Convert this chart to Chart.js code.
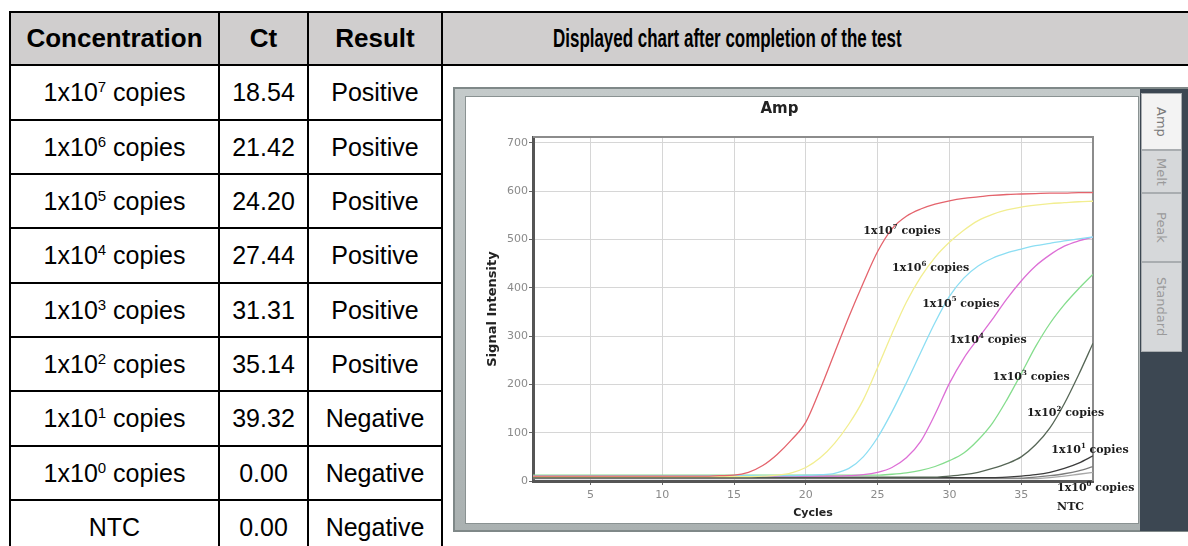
<!DOCTYPE html>
<html><head><meta charset="utf-8">
<script src="https://cdn.jsdelivr.net/npm/chart.js@4.4.1/dist/chart.umd.min.js"></script>
<style>
html,body{margin:0;padding:0;background:#fff;}
body{width:1188px;height:546px;overflow:hidden;position:relative;font-family:"Liberation Sans",Arial,sans-serif;color:#000;}
.cell{position:absolute;box-sizing:border-box;border:2px solid #000;display:flex;align-items:center;justify-content:center;white-space:nowrap;}
.hd{background:#d0cece;font-weight:bold;font-size:26px;}
.bd{font-size:25px;background:#fff;}
.sup{font-size:15px;line-height:0;position:relative;top:-9px;}
#hdtext{display:inline-block;transform:scaleX(0.652);transform-origin:left center;font-size:26px;font-weight:bold;}
#frame{position:absolute;left:453px;top:87px;width:740px;height:445px;box-sizing:border-box;border:2px solid #7f8888;background:linear-gradient(#c4caca,#aab1b1);}
#plotbg{position:absolute;left:465px;top:96px;width:674px;height:428px;box-sizing:border-box;border:1px solid #8a9292;background:#fff;}
#cv{position:absolute;left:466px;top:97px;}
#tabs{position:absolute;left:1140px;top:89px;width:50px;height:442px;background:#3c4752;}
.tab{position:absolute;left:1px;width:41px;box-sizing:border-box;border:1px solid #a9adb0;background:#d6d8da;color:#9a9a9a;font-family:"DejaVu Sans",sans-serif;font-size:13px;writing-mode:vertical-rl;display:flex;align-items:center;justify-content:center;}
</style></head>
<body>
<div id="tbl"></div>
<div id="frame"></div>
<div id="plotbg"></div>
<canvas id="cv" width="672" height="426"></canvas>
<div id="tabs"></div>
<script>
// ---------- table data ----------
const headers = ["Concentration", "Ct", "Result"];
const chartHeader = "Displayed chart after completion of the test";
const concExponents = ["7", "6", "5", "4", "3", "2", "1", "0", null];
const ctValues = ["18.54", "21.42", "24.20", "27.44", "31.31", "35.14", "39.32", "0.00", "0.00"];
const results = ["Positive", "Positive", "Positive", "Positive", "Positive", "Positive", "Negative", "Negative", "Negative"];
const tabNames = ["Amp", "Melt", "Peak", "Standard"];

// ---------- chart data ----------
const cycles = [1,2,3,4,5,6,7,8,9,10,11,12,13,14,15,16,17,18,19,20,21,22,23,24,25,26,27,28,29,30,31,32,33,34,35,36,37,38,39,40];
const xTicks = [5, 10, 15, 20, 25, 30, 35];
const yTicks = [0, 100, 200, 300, 400, 500, 600, 700];
const seriesNames = ["1x10^7", "1x10^6", "1x10^5", "1x10^4", "1x10^3", "1x10^2", "1x10^1", "1x10^0", "NTC"];
const copies7 = [10,10,10,10,10,10,10,10,10,10, 10,10,10,11,12,18,32,55,85,122, 190,265,340,410,475,522,548,563,573,580, 585,588,591,593,594,595,596,596,597,597];
const copies6 = [9,9,9,9,9,9,9,9,9,9, 9,9,9,9,9,9,10,12,17,28, 48,78,118,168,235,305,370,422,463,494, 519,539,552,561,567,571,574,576,578,579];
const copies5 = [11,11,11,11,11,11,11,11,11,11, 11,11,11,11,11,11,11,11,11,12, 13,16,26,50,90,143,203,266,328,382, 420,445,461,472,480,487,492,497,501,505];
const copies4 = [10,10,10,10,10,10,10,10,10,10, 10,10,10,10,10,10,10,10,10,10, 10,10,11,13,18,28,48,82,138,202, 254,295,335,377,414,445,468,486,497,505];
const copies3 = [12,12,12,12,12,12,12,12,12,12, 12,12,12,12,12,12,12,12,12,12, 12,12,12,12,12,14,17,22,30,42, 58,85,120,168,222,278,326,365,398,428];
const copies2 = [8,8,8,8,8,8,8,8,8,8, 8,8,8,8,8,8,8,8,8,8, 8,8,8,8,8,8,8,8,8,10, 13,18,26,36,50,75,110,160,220,285];
const copies1 = [7,7,7,7,7,7,7,7,7,7, 7,7,7,7,7,7,7,7,7,7, 7,7,7,7,7,7,7,7,7,7, 7,7,7,8,10,13,18,26,37,52];
const copies0 = [6,6,6,6,6,6,6,6,6,6, 6,6,6,6,6,6,6,6,6,6, 6,6,6,6,6,6,6,6,6,6, 6,6,6,6,6,8,11,15,21,30];
const ntc = [5,5,5,5,5,5,5,5,5,5, 5,5,5,5,5,5,5,5,5,5, 5,5,5,5,5,5,5,5,5,5, 5,5,5,5,5,5,7,10,14,18];
const seriesValues = [copies7, copies6, copies5, copies4, copies3, copies2, copies1, copies0, ntc];

// curve annotations (text, and where they sit in data coordinates)
const labelExps = ["7", "6", "5", "4", "3", "2", "1", "0", null];
const labelCycle = [24.0, 26.0, 28.1, 30.0, 33.0, 35.4, 37.1, 37.5, 37.5];
const labelSignal = [518, 441, 367, 292, 215, 141, 64, -14, -54];

// ---------- styles ----------
const seriesColors = ["#e4636c", "#f2ee90", "#8cdef3", "#dd6fd6", "#85dd8d", "#566656", "#3c3c3c", "#7c7c7c", "#a8a8a8"];

// ---------- build table ----------
const colX = [9, 218, 307, 441, 1200];
const rowY = [11, 64, 119, 173, 227, 282, 336, 390, 445, 499, 554];
const tbl = document.getElementById('tbl');
function mkCell(cls, l, t, w, h, html) {
  const d = document.createElement('div');
  d.className = 'cell ' + cls;
  d.style.left = l + 'px'; d.style.top = t + 'px';
  d.style.width = w + 'px'; d.style.height = h + 'px';
  if (html !== undefined) d.innerHTML = '<span>' + html + '</span>';
  tbl.appendChild(d);
  return d;
}
headers.forEach((h, i) => mkCell('hd', colX[i], rowY[0], colX[i+1]-colX[i]+2, rowY[1]-rowY[0]+2, h));
const hc = mkCell('hd', colX[3], rowY[0], colX[4]-colX[3]+2, rowY[1]-rowY[0]+2);
hc.style.justifyContent = 'flex-start';
hc.style.paddingLeft = '110px';
const hs = document.createElement('span'); hs.id = 'hdtext'; hs.textContent = chartHeader; hc.appendChild(hs);
for (let r = 0; r < 9; r++) {
  const t = rowY[r+1], h = rowY[r+2]-rowY[r+1]+2;
  const conc = concExponents[r] === null ? 'NTC' : '1x10<span class="sup">' + concExponents[r] + '</span> copies';
  mkCell('bd', colX[0], t, colX[1]-colX[0]+2, h, conc);
  mkCell('bd', colX[1], t, colX[2]-colX[1]+2, h, ctValues[r]);
  mkCell('bd', colX[2], t, colX[3]-colX[2]+2, h, results[r]);
}
mkCell('bd', colX[3], rowY[1], colX[4]-colX[3]+2, rowY[10]-rowY[1]+2);

// ---------- tabs ----------
const tabTops = [4, 61, 104, 173];
const tabBottoms = [61, 104, 173, 263];
const tabsEl = document.getElementById('tabs');
tabNames.forEach((n, i) => {
  const d = document.createElement('div');
  d.className = 'tab';
  d.style.top = tabTops[i] + 'px';
  d.style.height = (tabBottoms[i]-tabTops[i]) + 'px';
  if (i === 0) { d.style.background = '#f3f3f3'; d.style.color = '#7a7a7a'; }
  d.textContent = n;
  tabsEl.appendChild(d);
});

// ---------- chart ----------
Chart.defaults.font.family = '"DejaVu Sans", sans-serif';
const frameLines = {
  id: 'frameLines',
  beforeDatasetsDraw(chart) {
    const {ctx, chartArea: a} = chart;
    ctx.save();
    ctx.strokeStyle = '#8c8c8c'; ctx.lineWidth = 2;
    ctx.beginPath(); ctx.moveTo(a.left, a.top); ctx.lineTo(a.right, a.top); ctx.lineTo(a.right, a.bottom); ctx.stroke();
    ctx.restore();
  }
};
const curveLabels = {
  id: 'curveLabels',
  afterDatasetsDraw(chart) {
    const {ctx, scales: {x, y}} = chart;
    ctx.save();
    ctx.fillStyle = '#1d1d1d';
    ctx.textBaseline = 'middle';
    ctx.textAlign = 'left';
    labelExps.forEach((e, i) => {
      let px = x.getPixelForValue(labelCycle[i]);
      const py = y.getPixelForValue(labelSignal[i]);
      ctx.font = 'bold 11px "DejaVu Serif", serif';
      if (e === null) { ctx.fillText('NTC', px, py); return; }
      ctx.fillText('1x10', px, py);
      px += ctx.measureText('1x10').width;
      ctx.font = 'bold 7px "DejaVu Serif", serif';
      ctx.fillText(e, px, py - 4);
      px += ctx.measureText(e).width;
      ctx.font = 'bold 11px "DejaVu Serif", serif';
      ctx.fillText(' copies', px, py);
    });
    ctx.restore();
  }
};

new Chart(document.getElementById('cv'), {
  type: 'line',
  data: {
    datasets: seriesValues.map((vals, i) => ({
      label: seriesNames[i],
      data: vals.map((v, k) => ({x: cycles[k], y: v})),
      borderColor: seriesColors[i],
      backgroundColor: seriesColors[i],
      borderWidth: 1.3,
      pointRadius: 0,
      cubicInterpolationMode: 'monotone',
      fill: false
    }))
  },
  options: {
    responsive: false,
    animation: false,
    devicePixelRatio: 1,
    layout: {padding: {left: 0, right: 45, top: 0, bottom: 0}},
    plugins: {
      legend: {display: false},
      tooltip: {enabled: false},
      title: {display: true, text: 'Amp', color: '#222', font: {size: 15, weight: 'bold'}, padding: {top: 3, bottom: 19}}
    },
    scales: {
      x: {
        type: 'linear', min: 1, max: 40,
        afterBuildTicks: s => { s.ticks = xTicks.map(v => ({value: v})); },
        afterFit: s => { s.height = 42; },
        ticks: {color: '#8a8a8a', font: {size: 11}, padding: 4, maxRotation: 0},
        grid: {color: '#d6d6d6', lineWidth: 1, tickLength: 4, tickColor: '#666'},
        border: {display: true, color: '#555', width: 3},
        title: {display: true, text: 'Cycles', color: '#222', font: {size: 11, weight: 'bold'}, padding: {top: 0, bottom: 3}}
      },
      y: {
        type: 'linear', min: 0, max: 712,
        afterBuildTicks: s => { s.ticks = yTicks.map(v => ({value: v})); },
        afterFit: s => { s.width = 67; },
        ticks: {color: '#8a8a8a', font: {size: 11}, padding: 1},
        grid: {color: '#d6d6d6', lineWidth: 1, tickLength: 4, tickColor: '#666'},
        border: {display: true, color: '#555', width: 3},
        title: {display: true, text: 'Signal Intensity', color: '#222', font: {size: 13, weight: 'bold'}, padding: {top: 19, bottom: 0}}
      }
    }
  },
  plugins: [frameLines, curveLabels]
});
</script>
</body></html>
